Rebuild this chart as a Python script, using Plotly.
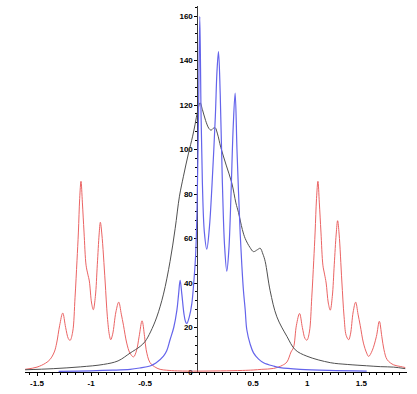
import plotly.graph_objects as go

# ---- data ----
red_x = [-1.61, -1.50, -1.42, -1.38, -1.34, -1.318, -1.29, -1.262, -1.235, -1.21, -1.194,
         -1.17, -1.148, -1.13, -1.117, -1.105, -1.093, -1.08, -1.065, -1.046, -1.03, -1.016,
         -0.995, -0.979, -0.96, -0.942, -0.925, -0.914, -0.90, -0.87, -0.849, -0.83, -0.818,
         -0.80, -0.77, -0.744, -0.72, -0.70, -0.67, -0.64, -0.607, -0.58, -0.555, -0.528,
         -0.505, -0.49, -0.454, -0.40, -0.361, -0.30, -0.20, 0.0, 0.20, 0.40, 0.50, 0.58,
         0.688, 0.77, 0.812, 0.85, 0.873, 0.90, 0.929, 0.955, 0.98, 0.997, 1.02, 1.042,
         1.06, 1.073, 1.086, 1.099, 1.112, 1.127, 1.145, 1.16, 1.175, 1.195, 1.213, 1.232,
         1.25, 1.268, 1.281, 1.295, 1.32, 1.341, 1.36, 1.383, 1.40, 1.425, 1.448, 1.47,
         1.49, 1.52, 1.55, 1.568, 1.60, 1.64, 1.667, 1.69, 1.71, 1.74, 1.80, 1.861, 1.907]
red_y = [1.2, 2.2, 4.0, 5.6, 9.0, 13.0, 21.0, 26.5, 20.0, 15.0, 14.2,
         18.0, 33.6, 50.0, 62.9, 78.0, 85.7, 76.0, 62.9, 48.0, 44.0, 40.9,
         31.0, 28.0, 34.0, 48.2, 62.0, 67.3, 62.0, 40.9, 24.8, 16.5, 14.5,
         17.0, 27.0, 31.4, 26.0, 21.0, 13.0, 8.5, 6.8, 9.5, 16.0, 23.0,
         16.0, 10.0, 4.2, 2.0, 1.2, 0.8, 0.5, 0.4, 0.5, 0.7, 0.9, 1.2,
         1.6, 3.0, 4.5, 9.0, 11.0, 21.0, 26.3, 20.0, 15.0, 14.3, 18.0, 33.6,
         50.0, 62.9, 78.0, 85.7, 76.0, 62.9, 48.0, 44.0, 40.0, 31.0, 27.8, 34.0,
         48.2, 62.0, 68.0, 62.0, 40.9, 24.8, 16.5, 14.5, 17.0, 27.0, 31.4, 26.0,
         21.0, 13.0, 8.5, 7.0, 9.5, 16.0, 22.8, 16.0, 10.0, 5.5, 3.2, 2.5, 2.0]

blue_x = [-1.30, -1.0, -0.8, -0.639, -0.55, -0.454, -0.40, -0.33, -0.30, -0.269, -0.235,
          -0.206, -0.19, -0.176, -0.16, -0.14, -0.125, -0.114, -0.09, -0.068, -0.05, -0.033,
          -0.019, -0.006, 0.006, 0.018, 0.030, 0.048, 0.071, 0.095, 0.12, 0.15, 0.165, 0.179,
          0.195, 0.215, 0.235, 0.256, 0.275, 0.295, 0.315, 0.333, 0.35, 0.365, 0.38, 0.395,
          0.41, 0.426, 0.441, 0.472, 0.503, 0.55, 0.596, 0.688, 0.75, 0.935, 1.2, 1.55]
blue_y = [0.3, 0.5, 0.8, 1.2, 1.8, 2.7, 4.0, 7.1, 9.5, 14.5, 20.0,
          27.7, 35.0, 41.2, 35.0, 26.0, 22.5, 21.8, 25.0, 30.6, 40.0, 52.0,
          74.0, 115.0, 159.8, 115.0, 85.0, 63.0, 55.2, 65.0, 85.0, 115.0, 135.0, 144.0,
          125.0, 85.0, 57.0, 45.3, 55.0, 80.0, 110.0, 125.3, 100.0, 80.0, 62.0, 48.0,
          36.5, 28.0, 19.0, 12.5, 8.6, 5.8, 4.2, 2.7, 2.0, 1.2, 0.7, 0.4]

black_x = [-1.61, -1.35, -1.1, -0.886, -0.75, -0.639, -0.546, -0.50, -0.45, -0.392, -0.33,
           -0.269, -0.222, -0.182, -0.145, -0.10, -0.06, -0.037, -0.015, 0.009, 0.03, 0.06,
           0.09, 0.11, 0.13, 0.148, 0.17, 0.20, 0.25, 0.302, 0.34, 0.364, 0.40, 0.426, 0.47,
           0.503, 0.54, 0.565, 0.59, 0.611, 0.657, 0.719, 0.812, 0.889, 0.997, 1.213, 1.37,
           1.55, 1.68, 1.80, 1.907]
black_y = [1.0, 1.5, 2.3, 3.4, 5.0, 8.5, 11.5, 13.7, 18.0, 24.7, 35.0,
           49.7, 64.4, 79.0, 88.0, 98.0, 106.0, 111.4, 117.0, 121.0, 118.0, 113.0,
           109.5, 108.7, 109.5, 109.8, 107.0, 101.0, 93.0, 85.0, 76.0, 71.7, 64.0, 60.0, 56.0,
           54.1, 55.0, 55.6, 53.0, 49.7, 36.5, 24.8, 16.0, 10.0, 7.1, 4.2, 3.4,
           2.8, 2.4, 2.2, 1.5]

x_ticks = [-1.5, -1, -0.5, 0.5, 1, 1.5]
x_tick_text = ["-1.5", "-1", "-0.5", "0.5", "1", "1.5"]
y_ticks = [0, 20, 40, 60, 80, 100, 120, 140, 160]

x_range = [-1.611, 1.923]
y_range = [0, 164.5]

fig = go.Figure()
fig.add_trace(go.Scatter(x=red_x, y=red_y, mode="lines",
                         line=dict(color="rgb(235,100,100)", width=1, shape="spline", smoothing=1.0)))
fig.add_trace(go.Scatter(x=black_x, y=black_y, mode="lines",
                         line=dict(color="rgb(80,80,80)", width=1, shape="spline", smoothing=1.0)))
fig.add_trace(go.Scatter(x=blue_x, y=blue_y, mode="lines",
                         line=dict(color="rgb(100,100,235)", width=1.2, shape="spline", smoothing=1.0)))

tick_font = dict(family="Liberation Sans", size=8, color="black", weight="bold")

fig.update_layout(
    width=417, height=394,
    margin=dict(l=25, r=10, t=6, b=15),
    paper_bgcolor="white", plot_bgcolor="white",
    showlegend=False,
    xaxis=dict(range=x_range, domain=[0, 1], showgrid=False, zeroline=False,
               layer="below traces",
               showline=True, linecolor="black", linewidth=1,
               ticks="outside", ticklen=3, tickcolor="black", tickwidth=1,
               tickmode="array", tickvals=x_ticks, ticktext=x_tick_text,
               tickfont=tick_font,
               minor=dict(tickmode="linear", tick0=0, dtick=0.5 / 7, ticks="outside",
                          ticklen=2, tickcolor="black")),
    yaxis=dict(range=y_range, showgrid=False, zeroline=False,
               layer="below traces",
               anchor="free", position=(-0.016 - x_range[0]) / (x_range[1] - x_range[0]),
               showline=True, linecolor="rgb(60,60,60)", linewidth=1,
               ticks="outside", ticklen=3, tickcolor="black", tickwidth=1,
               tickmode="array", tickvals=y_ticks,
               tickfont=tick_font,
               minor=dict(tickmode="linear", tick0=0, dtick=4, ticks="outside",
                          ticklen=2, tickcolor="black")),
)

fig.write_html("out.html")
